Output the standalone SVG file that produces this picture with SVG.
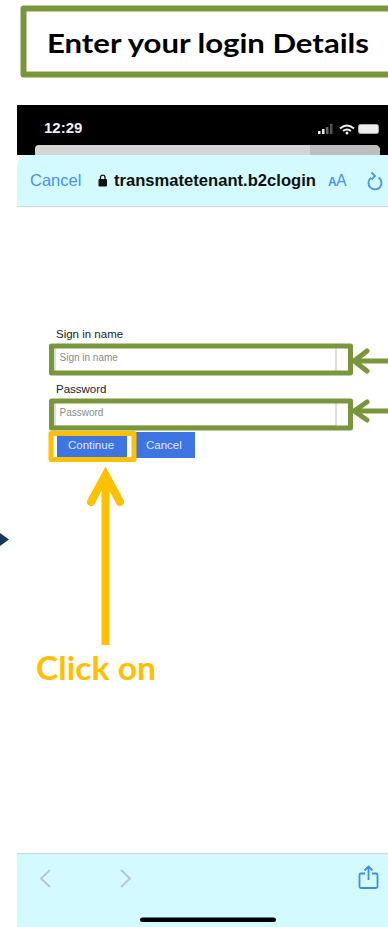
<svg xmlns="http://www.w3.org/2000/svg" width="388" height="927" viewBox="0 0 388 927">
<style>
.g{stroke:#7a963c;fill:none}
.y{stroke:#ffc000;fill:none}
.s{font-family:"Liberation Sans",Arial,sans-serif}
.c{font-family:Lato,"Open Sans",sans-serif;font-weight:700}
.ph{font-size:10px;fill:#8a8a8a}
.lb{font-size:11.500px;fill:#222}
.bt{font-size:11.500px;fill:#dfe8fb}
.bar{fill:#d3fbff}
</style>
<rect width="388" height="927" fill="#fff"/>
<g id="phone">
<rect x="17" y="105" width="371" height="822" fill="#fff"/>
<rect x="17" y="105" width="371" height="50" fill="#000"/>
<path d="M35 155v-6a4 4 0 0 1 4-4h336a5 5 0 0 1 5 5v5z" fill="#d4d4d4"/>
<path d="M310 145h65a5 5 0 0 1 5 5v5h-70z" fill="#bdbdbd"/>
<text x="44" y="133" class="s" font-size="15" font-weight="700" fill="#f0f0f0">12:29</text>
<g fill="#eee"><rect x="318" y="131" width="2.500" height="3"/><rect x="322" y="129" width="2.500" height="5"/><rect x="326" y="127" width="2.500" height="7" fill="#666"/><rect x="330" y="124" width="2.500" height="10" fill="#555"/></g>
<path d="M340 128.500q7-6 14 0M343 131q4-3 8 0" fill="none" stroke="#eee" stroke-width="2"/><circle cx="347" cy="133" r="1.500" fill="#eee"/>
<rect x="358.500" y="124.500" width="20" height="9" rx="2" fill="#eee" stroke="#aaa"/>
<path d="M17 206V165a10 10 0 0 1 10-10H388V206z" class="bar"/>
<rect x="17" y="206" width="371" height="1" fill="#c9dfe2"/>
<text x="30" y="186" class="s" font-size="16.500" fill="#4a90ee">Cancel</text>
<rect x="98.500" y="179" width="8.500" height="7.500" rx="1" fill="#111"/><path d="M100.500 179v-2a2.300 2.300 0 0 1 4.500 0v2" fill="none" stroke="#111" stroke-width="1.300"/>
<text x="114" y="186" class="s" font-size="16.600" font-weight="700" fill="#111">transmatetenant.b2clogin</text>
<text x="328" y="186" class="s" font-size="12" font-weight="700" fill="#4a90ee">A</text><text x="336" y="186" class="s" font-size="16" fill="#4a90ee">A</text>
<path d="M378.500 177.500a6.500 6.500 0 1 1-7.500 0.300M371.500 172.500l3.500 3.500l-3.500 3.500" fill="none" stroke="#4a90ee" stroke-width="1.800"/>
<rect x="17" y="853" width="371" height="74" class="bar"/>
<rect x="17" y="853" width="371" height="1" fill="#cfd4d6"/>
<path d="M50 870l-9 8.500l9 8.500M121 870l9 8.500l-9 8.500" fill="none" stroke="#b9c7cf" stroke-width="2"/>
<path d="M365 873.500h-4a1.500 1.500 0 0 0-1.500 1.500v11.500a1.500 1.500 0 0 0 1.500 1.500h15a1.500 1.500 0 0 0 1.500-1.500V875a1.500 1.500 0 0 0-1.500-1.500H372M368.500 880V867M364.500 870.500l4-4l4 4" fill="none" stroke="#3f8bf0" stroke-width="1.800"/>
<rect x="140" y="917.500" width="136" height="4.500" rx="2.250" fill="#000"/>
</g>
<g id="form">
<text x="56" y="338" class="s lb">Sign in name</text>
<rect x="55" y="347" width="281" height="25" fill="#fff" stroke="#bbb"/>
<text x="59.500" y="361" class="s ph">Sign in name</text>
<text x="56" y="393" class="s lb">Password</text>
<rect x="55" y="402" width="281" height="24" fill="#fff" stroke="#bbb"/>
<text x="59.500" y="416" class="s ph">Password</text>
<rect x="57" y="432" width="70" height="26" fill="#3f74e3"/>
<text x="68" y="449" class="s bt">Continue</text>
<rect x="136" y="432" width="59" height="26" fill="#3f74e3"/>
<text x="146" y="449" class="s bt">Cancel</text>
</g>
<g id="title">
<rect x="23.500" y="8.500" width="370" height="66" fill="#fff" class="g" stroke-width="6" stroke-linejoin="round"/>
<text x="47" y="53" class="c" font-size="27" fill="#000" textLength="322" lengthAdjust="spacingAndGlyphs">Enter your login Details</text>
</g>
<g id="highlight-signin"><rect x="51.500" y="346" width="299" height="27" class="g" stroke-width="5" stroke-linejoin="round"/></g>
<g id="highlight-password"><rect x="51.500" y="401" width="299" height="27" class="g" stroke-width="5" stroke-linejoin="round"/></g>
<g id="highlight-continue"><rect x="51" y="433.500" width="83" height="26" class="y" stroke-width="5" stroke-linejoin="round"/></g>
<g id="connectors">
<path d="M388 361H354M367 351l-13 10l13 10" class="g" stroke-width="5" stroke-linecap="round" stroke-linejoin="round"/>
<path d="M388 411H354M367 402l-13 9l13 9" class="g" stroke-width="5" stroke-linecap="round" stroke-linejoin="round"/>
<path d="M105.500 645V474" class="y" stroke-width="8"/>
<path d="M91 502l14.500-27l14.500 27" class="y" stroke-width="8" stroke-linecap="round" stroke-linejoin="miter"/>
<path d="M0 533l9 6.500l-9 6.500z" fill="#17375e"/>
</g>
<g id="click-label"><text x="36" y="680" class="c" font-size="32" fill="#ffc000" textLength="120" lengthAdjust="spacingAndGlyphs">Click on</text></g>
</svg>
